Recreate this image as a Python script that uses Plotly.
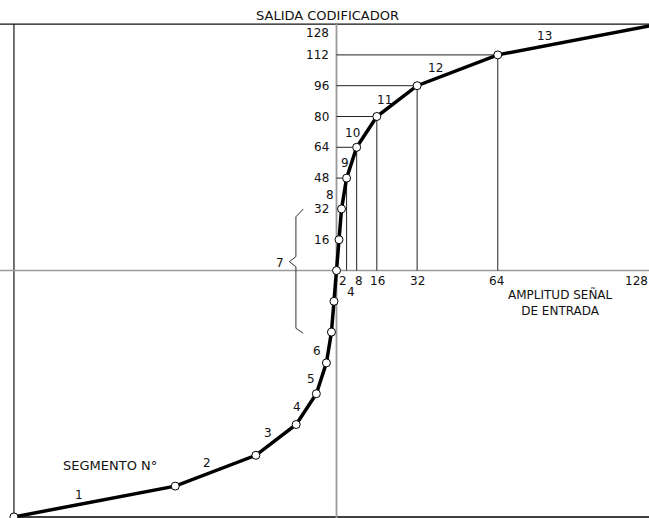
import plotly.graph_objects as go

# ---- data (A-law 13-segment characteristic) ----
input_amp = [-128, -64, -32, -16, -8, -4, -2, -1, 0, 1, 2, 4, 8, 16, 32, 64, 128]
coder_out = [-128, -112, -96, -80, -64, -48, -32, -16, 0, 16, 32, 48, 64, 80, 96, 112, 128]

y_ticks = [16, 32, 48, 64, 80, 96, 112, 128]
x_ticks = [2, 4, 8, 16, 32, 64, 128]

# guide lines from these curve points to the axes
guide_in = [4, 8, 16, 32, 64]
guide_out = [48, 64, 80, 96, 112]

segment_names = ["1", "2", "3", "4", "5", "6", "7", "8", "9", "10", "11", "12", "13"]
segment_x = [-102.2, -51.5, -27.0, -15.8, -10.1, -7.6, -22.4, -2.6, 3.4, 6.4, 19.2, 39.4, 82.5]
segment_y = [-116.6, -100.2, -84.2, -71.1, -56.4, -41.7, 4.1, 39.2, 55.7, 71.3, 88.6, 105.0, 122.0]

title_text = "SALIDA CODIFICADOR"
x_title = "AMPLITUD SEÑAL<br>DE ENTRADA"
seg_title = "SEGMENTO N°"

FONT = "DejaVu Sans"
XR = [-133.53, 124.01]
YR = [-128.57, 140.52]

fig = go.Figure()

# frame lines
fig.add_trace(go.Scatter(x=[-128, -128], y=[-128, 128], mode="lines",
                         line=dict(color="#505050", width=1.6), hoverinfo="skip"))
fig.add_trace(go.Scatter(x=[-128, XR[1]], y=[-128, -128], mode="lines",
                         line=dict(color="#404040", width=2), hoverinfo="skip"))
fig.add_trace(go.Scatter(x=[XR[0], XR[1]], y=[128, 128], mode="lines",
                         line=dict(color="#111111", width=1.2), hoverinfo="skip"))

# axes (grey)
fig.add_trace(go.Scatter(x=[XR[0], XR[1]], y=[0, 0], mode="lines",
                         line=dict(color="#9a9a9a", width=1.5), hoverinfo="skip"))
fig.add_trace(go.Scatter(x=[0, 0], y=[YR[0], 128], mode="lines",
                         line=dict(color="#9a9a9a", width=1.8), hoverinfo="skip"))

# guides
gx, gy = [], []
for xi, yi in zip(guide_in, guide_out):
    gx += [0, xi, xi, None]
    gy += [yi, yi, 0, None]
fig.add_trace(go.Scatter(x=gx, y=gy, mode="lines",
                         line=dict(color="#222222", width=1), hoverinfo="skip"))

# brace for segment 7
bx = [-13.2, -16.1, -16.1, -18.7, -16.1, -16.1, -13.2]
by = [31.9, 27.9, 7.2, 4.6, 2.0, -30.0, -32.6]
fig.add_trace(go.Scatter(x=bx, y=by, mode="lines",
                         line=dict(color="#333333", width=1), hoverinfo="skip"))

# main curve
fig.add_trace(go.Scatter(x=input_amp, y=coder_out, mode="lines+markers",
                         line=dict(color="black", width=3.5),
                         marker=dict(size=8, color="white", line=dict(color="black", width=1)),
                         hoverinfo="skip"))

ann = []
# y tick labels
for v in y_ticks:
    if v == 128:
        ann.append(dict(x=0, y=v, text=str(v), xanchor="right", yanchor="top",
                        xshift=-6, yshift=0, showarrow=False))
    else:
        ann.append(dict(x=0, y=v, text=str(v), xanchor="right", yanchor="middle",
                        xshift=-6, showarrow=False))
# x tick labels (128 lies just beyond the right edge; its label is pulled in)
for v in x_ticks:
    xv = min(v, 119.0)
    dx = {2: 1, 4: 4, 8: 2, 16: 1, 32: 0, 64: -1, 128: 0}[v]
    dy = -11 if v == 4 else 0
    ann.append(dict(x=xv, y=0, text=str(v), xanchor="center", yanchor="top",
                    xshift=dx, yshift=-1 + dy, showarrow=False))
# segment numbers
for t, sx, sy in zip(segment_names, segment_x, segment_y):
    ann.append(dict(x=sx, y=sy, text=t, xanchor="center", yanchor="middle", showarrow=False))

ann.append(dict(x=-3.5, y=132.7, text=title_text, xanchor="center", yanchor="middle",
                showarrow=False, font=dict(size=13)))
ann.append(dict(x=88.7, y=-16.7, text=x_title, xanchor="center", yanchor="middle",
                showarrow=False, font=dict(size=12)))
ann.append(dict(x=-89.9, y=-101.4, text=seg_title, xanchor="center", yanchor="middle",
                showarrow=False, font=dict(size=13)))

fig.update_layout(
    width=649, height=518,
    margin=dict(l=0, r=0, t=0, b=0),
    paper_bgcolor="white", plot_bgcolor="white",
    showlegend=False,
    font=dict(family=FONT, size=12, color="#111111"),
    annotations=ann,
    xaxis=dict(range=XR, visible=False, fixedrange=True),
    yaxis=dict(range=YR, visible=False, fixedrange=True),
)

fig.write_html("out.html", config={"displayModeBar": False},
               post_script="document.body.style.margin='0';document.body.style.overflow='hidden';")
